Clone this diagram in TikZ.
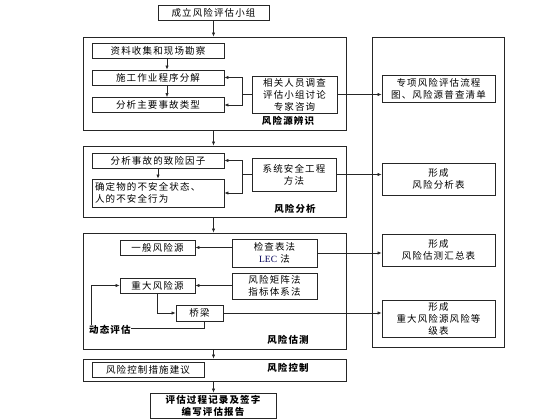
\documentclass[tikz,border=0pt]{standalone}
\usepackage{fontspec}
\newfontfamily\cjk[LetterSpace=12]{Noto Sans CJK SC}
\newfontfamily\lat{Liberation Serif}
\usetikzlibrary{arrows.meta,calc}
\begin{document}
\begin{tikzpicture}[x=1pt,y=-1pt,
  every node/.style={font=\cjk\fontsize{9.5}{12}\selectfont},
  bx/.style={draw=black!85,line width=0.7pt,inner sep=0pt,align=center},
  big/.style={draw=black!85,line width=0.7pt,inner sep=0pt},
  lbl/.style={font=\cjk\bfseries\fontsize{9.5}{12}\selectfont,inner sep=0pt},
  con/.style={draw=black!85,line width=0.6pt},
  arr/.style={con,-{Latex[length=4pt,width=3.2pt]}}]
\useasboundingbox (0,0) rectangle (560,420);
\fill[white] (0,0) rectangle (560,420);

% left column
\node[bx,minimum width=111,minimum height=15] (top) at (213.5,12.5) {成立风险评估小组};

\node[big,minimum width=263,minimum height=93] (B1) at (214.5,83.5) {};
\node[bx,minimum width=132,minimum height=15] (s1) at (158,50.5) {资料收集和现场勘察};
\node[bx,minimum width=132,minimum height=15] (s2) at (158,77.5) {施工作业程序分解};
\node[bx,minimum width=132,minimum height=15] (s3) at (158,105) {分析主要事故类型};
\node[bx,minimum width=85,minimum height=37] (r1) at (294.5,94.5) {相关人员调查\\评估小组讨论\\专家咨询};
\node[lbl] (l1) at (288,121) {风险源辨识};

\node[big,minimum width=263,minimum height=71] (B2) at (214.5,181.5) {};
\node[bx,minimum width=132,minimum height=15] (a1) at (158,160.5) {分析事故的致险因子};
\node[bx,minimum width=132,minimum height=28,align=left,text width=126] (a2) at (158,193) {确定物的不安全状态、\\人的不安全行为};
\node[bx,minimum width=84,minimum height=33] (r2) at (294,174.5) {系统安全工程\\方法};
\node[lbl] (l2) at (295,209) {风险分析};

\node[big,minimum width=263,minimum height=116] (B3) at (214.5,291) {};
\node[bx,minimum width=75,minimum height=15] (g1) at (157.5,247.5) {一般风险源};
\node[bx,minimum width=85,minimum height=28] (m1) at (274.5,253) {检查表法\\{\lat\color{blue!35!black}LEC} 法};
\node[bx,minimum width=75,minimum height=15] (g2) at (157.5,285.5) {重大风险源};
\node[bx,minimum width=85,minimum height=26] (m2) at (274.5,286) {风险矩阵法\\指标体系法};
\node[bx,minimum width=47,minimum height=16] (q) at (199.5,313) {桥梁};
\node[lbl] (l3) at (288,340) {风险估测};
\node[lbl,anchor=west] (dyn) at (89,330) {动态评估};

\node[big,minimum width=263,minimum height=22] (B4) at (214.5,370) {};
\node[bx,minimum width=112,minimum height=15] (c1) at (148,369.5) {风险控制措施建议};
\node[lbl] (l4) at (288,368) {风险控制};

\node[bx,minimum width=126,minimum height=25,font=\cjk\bfseries\fontsize{9.5}{12}\selectfont] (fin) at (213,405.5) {评估过程记录及签字\\编写评估报告};

% right column
\node[big,minimum width=132,minimum height=310] (R) at (438,192) {};
\node[bx,minimum width=113,minimum height=27] (f1) at (438.5,88.5) {专项风险评估流程\\图、风险源普查清单};
\node[bx,minimum width=113,minimum height=32] (f2) at (438.5,179) {形成\\风险分析表};
\node[bx,minimum width=113,minimum height=32] (f3) at (438.5,250) {形成\\风险估测汇总表};
\node[bx,minimum width=113,minimum height=37,text width=110] (f4) at (438.5,318.5) {形成\\重大风险源风险等\\级表};

% main flow
\draw[arr] (top.south) -- (top.south |- B1.north);
\draw[arr] (top.south |- B1.south) -- (top.south |- B2.north);
\draw[arr] (top.south |- B2.south) -- (top.south |- B3.north);
\draw[arr] (top.south |- B3.south) -- (top.south |- B4.north);
\draw[arr] (top.south |- B4.south) -- (fin.north -| top.south);

% block 1
\draw[arr] ([xshift=9pt]s1.south) -- ([xshift=9pt]s2.north);
\draw[arr] ([xshift=9pt]s2.south) -- ([xshift=9pt]s3.north);
\draw[con] (r1.west) -- ++(-9,0) coordinate (k1);
\draw[con] (k1 |- s2.east) -- (k1 |- s3.east);
\draw[arr] (k1 |- s2.east) -- (s2.east);
\draw[arr] (k1 |- s3.east) -- (s3.east);
\draw[arr] (r1.east) -- (f1.west |- r1.east);

% block 2
\draw[arr] (a1.south) -- (a2.north);
\draw[con] (r2.west) -- ++(-9,0) coordinate (k2);
\draw[con] (k2 |- a1.east) -- (k2 |- a2.east);
\draw[arr] (k2 |- a1.east) -- (a1.east);
\draw[arr] (k2 |- a2.east) -- (a2.east);
\draw[arr] (r2.east) -- (f2.west |- r2.east);

% block 3
\draw[arr] (m1.west |- g1.east) -- (g1.east);
\draw[arr] (m1.east) -- (f3.west |- m1.east);
\draw[arr] (m2.west |- g2.east) -- (g2.east);
\draw[arr] (g2.south) |- (q.west);
\draw[arr] (q.east) -- (f4.west |- q.east);
\draw[con] ([xshift=4.5pt]q.south) |- ([yshift=2pt]dyn.east);
\coordinate (lp) at (91,0);
\draw[arr] (lp |- dyn.north) |- (g2.west);
\end{tikzpicture}
\end{document}
